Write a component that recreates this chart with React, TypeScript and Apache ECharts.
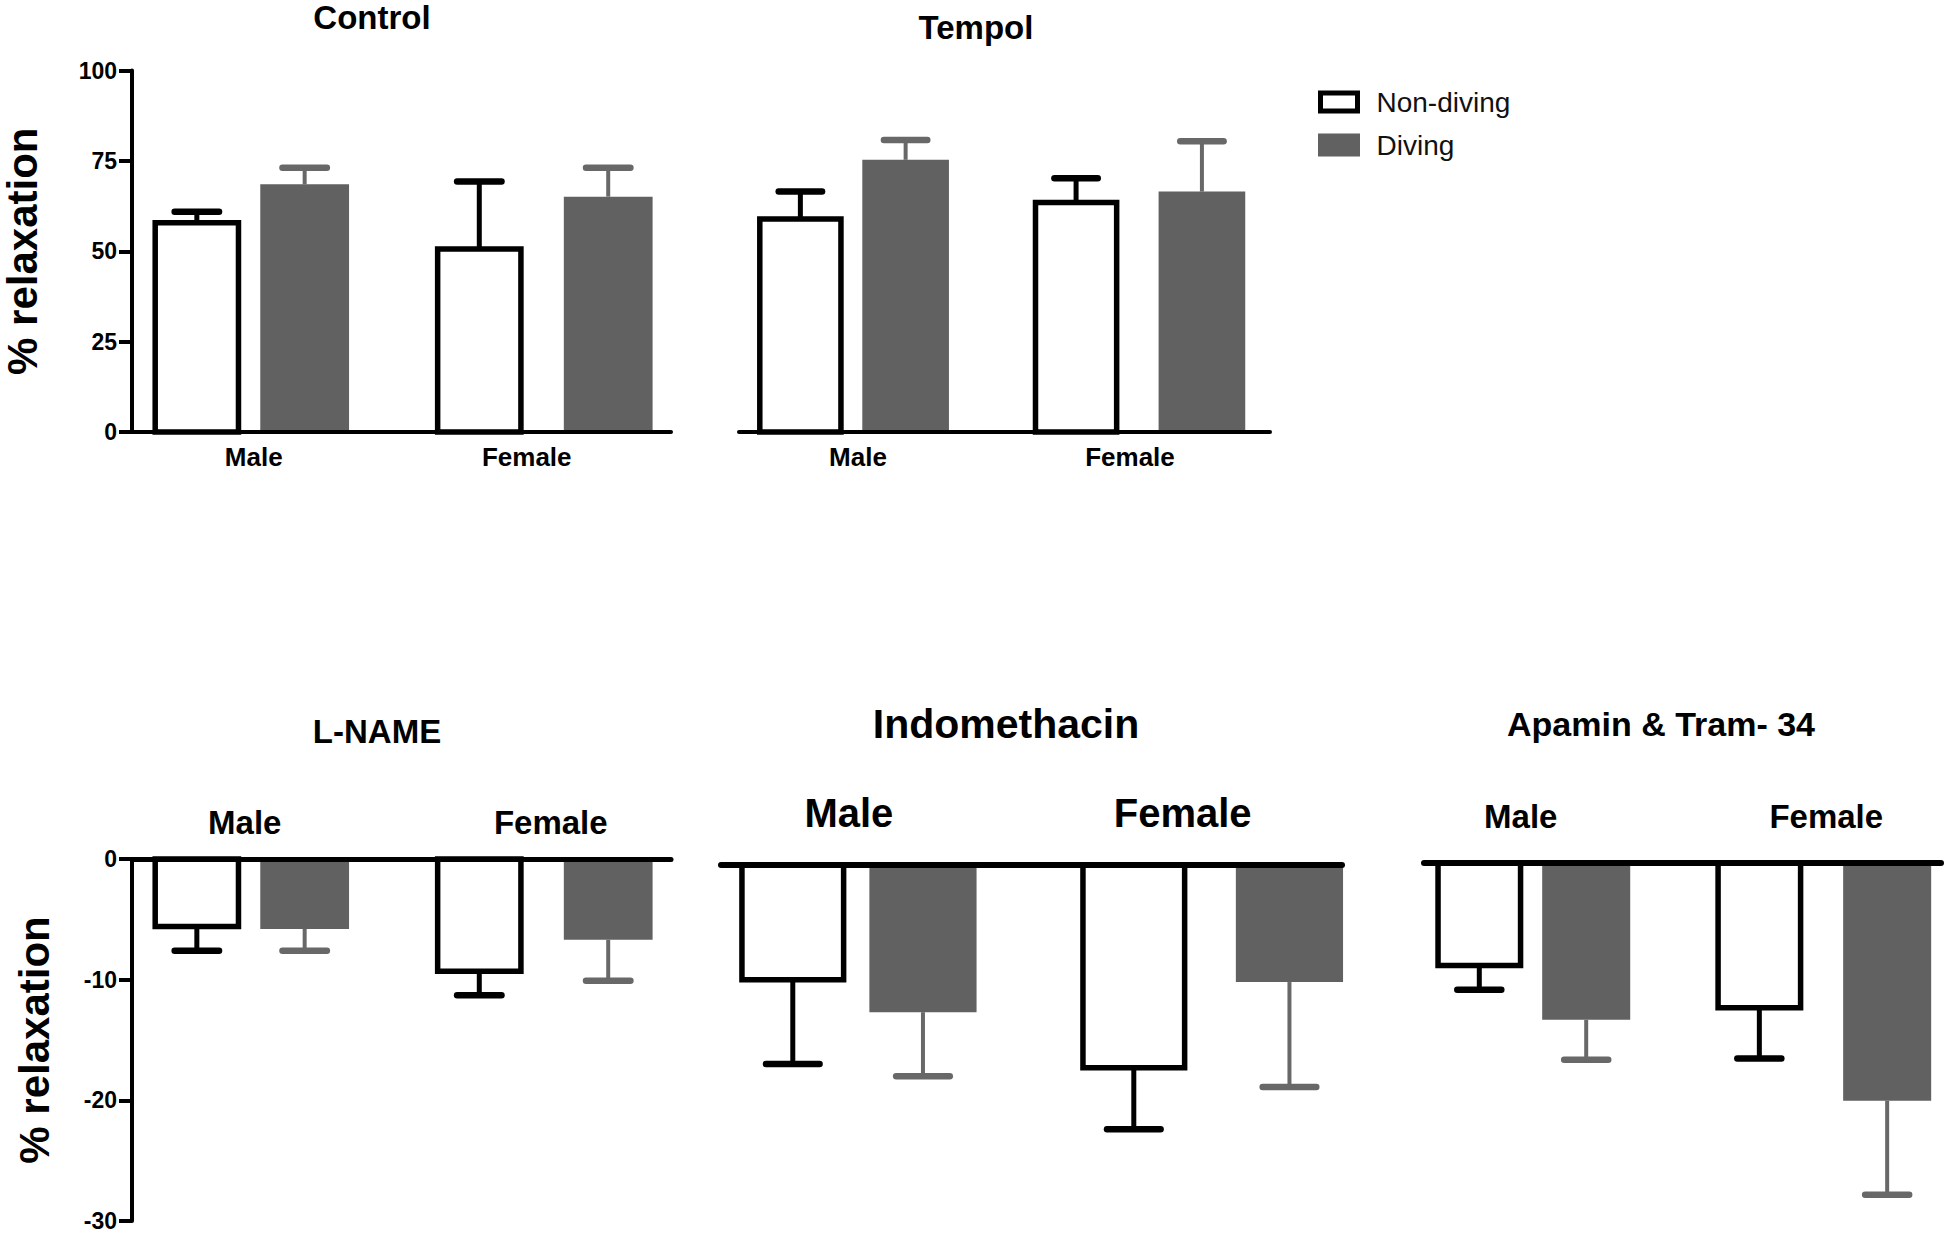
import React, { useEffect, useRef } from 'react';
import * as echarts from 'echarts';

// ---------- data ----------
const sexes = ['Male', 'Female'];
const seriesNames = ['Non-diving', 'Diving'];

const controlNonDiving = [57.9, 50.6];
const controlNonDivingErr = [3.0, 18.7];
const controlDiving = [68.5, 65.1];
const controlDivingErr = [4.6, 8.0];

const tempolNonDiving = [58.9, 63.5];
const tempolNonDivingErr = [7.6, 6.7];
const tempolDiving = [75.3, 66.5];
const tempolDivingErr = [5.5, 13.9];

const lnameNonDiving = [-5.6, -9.3];
const lnameNonDivingErr = [2.0, 2.0];
const lnameDiving = [-5.8, -6.7];
const lnameDivingErr = [1.8, 3.4];

const indoNonDiving = [-9.5, -16.8];
const indoNonDivingErr = [7.0, 5.1];
const indoDiving = [-12.2, -9.7];
const indoDivingErr = [5.3, 8.7];

const apaminNonDiving = [-8.5, -12.0];
const apaminNonDivingErr = [2.0, 4.2];
const apaminDiving = [-13.0, -19.7];
const apaminDivingErr = [3.3, 7.8];

const topTicks = { min: 0, max: 100, interval: 25 };
const bottomTicks = { min: -30, max: 0, interval: 10 };
const yAxisTitle = '% relaxation';

// ---------- layout / style ----------
const FONT = '"Liberation Sans", Arial, Helvetica, sans-serif';
const BAR_FRAC = 0.303;
// half distance between the two bars of a group, as a fraction of the band (Male, Female)
const SPACING = [0.184, 0.22];
const DIVE_FILL = '#616161';
const DIVE_ERR = '#686868';

type Panel = {
  title: string;
  titleX: number;
  titleY: number;
  titleSize: number;
  nd: number[];
  ndErr: number[];
  d: number[];
  dErr: number[];
  ticks: { min: number; max: number; interval: number };
  top: number;
  height: number;
  frameLeft: number;
  frameWidth: number;
  barsLeft: number;
  barsWidth: number;
  showY: boolean;
  yNameGap: number;
  labelPos: 'top' | 'bottom';
  labelSize: number;
  labelMargin: number;
  labelShift: number[];
  axisWidth: number;
};

const panels: Panel[] = [
  {
    title: 'Control', titleX: 372, titleY: 17, titleSize: 33,
    nd: controlNonDiving, ndErr: controlNonDivingErr, d: controlDiving, dErr: controlDivingErr,
    ticks: topTicks, top: 70.5, height: 361.5,
    frameLeft: 132, frameWidth: 539, barsLeft: 104.25, barsWidth: 586,
    showY: true, yNameGap: 89, labelPos: 'bottom', labelSize: 26, labelMargin: 12, labelShift: [3, -17], axisWidth: 4,
  },
  {
    title: 'Tempol', titleX: 976, titleY: 27, titleSize: 33,
    nd: tempolNonDiving, ndErr: tempolNonDivingErr, d: tempolDiving, dErr: tempolDivingErr,
    ticks: topTicks, top: 70.5, height: 361.5,
    frameLeft: 739, frameWidth: 531, barsLeft: 710, barsWidth: 572,
    showY: false, yNameGap: 0, labelPos: 'bottom', labelSize: 26, labelMargin: 12, labelShift: [5, -9], axisWidth: 4,
  },
  {
    title: 'L-NAME', titleX: 377, titleY: 731, titleSize: 33,
    nd: lnameNonDiving, ndErr: lnameNonDivingErr, d: lnameDiving, dErr: lnameDivingErr,
    ticks: bottomTicks, top: 859, height: 362,
    frameLeft: 132, frameWidth: 539, barsLeft: 104.25, barsWidth: 586,
    showY: true, yNameGap: 77, labelPos: 'top', labelSize: 33, labelMargin: 20, labelShift: [-6, 7], axisWidth: 5,
  },
  {
    title: 'Indomethacin', titleX: 1006, titleY: 724, titleSize: 41,
    nd: indoNonDiving, ndErr: indoNonDivingErr, d: indoDiving, dErr: indoDivingErr,
    ticks: bottomTicks, top: 865, height: 362,
    frameLeft: 721, frameWidth: 621, barsLeft: 681, barsWidth: 707.5,
    showY: false, yNameGap: 0, labelPos: 'top', labelSize: 40, labelMargin: 32, labelShift: [-9, -29], axisWidth: 6,
  },
  {
    title: 'Apamin & Tram- 34', titleX: 1661, titleY: 724, titleSize: 34,
    nd: apaminNonDiving, ndErr: apaminNonDivingErr, d: apaminDiving, dErr: apaminDivingErr,
    ticks: bottomTicks, top: 863, height: 362,
    frameLeft: 1424, frameWidth: 517, barsLeft: 1387.5, barsWidth: 581,
    showY: false, yNameGap: 0, labelPos: 'top', labelSize: 33, labelMargin: 30, labelShift: [-12, 3], axisWidth: 6,
  },
];

function makeRender(isDiving: boolean) {
  return (_params: any, api: any) => {
    const cat = api.value(0) as number;
    const mean = api.value(1) as number;
    const err = api.value(2) as number;
    const base = api.coord([cat, 0]);
    const tip = api.coord([cat, mean]);
    const end = api.coord([cat, mean + (mean >= 0 ? err : -err)]);
    const band = api.size([1, 0])[0];
    const bw = band * BAR_FRAC;
    const half = band * SPACING[cat];
    const cx = base[0] + (isDiving ? 1 : -1) * half;
    const capW = bw * 0.5;
    const color = isDiving ? DIVE_ERR : '#000000';
    const y0 = Math.min(base[1], tip[1]);
    const h = Math.abs(tip[1] - base[1]);
    const lw = 5.5;
    const rect = isDiving
      ? { type: 'rect', shape: { x: cx - bw / 2, y: y0, width: bw, height: h }, style: { fill: DIVE_FILL } }
      : {
          type: 'rect',
          shape: { x: cx - bw / 2 + lw / 2, y: y0, width: bw - lw, height: h },
          style: { fill: '#ffffff', stroke: '#000000', lineWidth: lw, lineJoin: 'miter' },
        };
    return {
      type: 'group',
      children: [
        {
          type: 'line',
          shape: { x1: cx, y1: tip[1], x2: cx, y2: end[1] },
          style: { stroke: color, lineWidth: isDiving ? 4 : 5 },
        },
        {
          type: 'line',
          shape: { x1: cx - capW / 2, y1: end[1], x2: cx + capW / 2, y2: end[1] },
          style: { stroke: color, lineWidth: 6.5, lineCap: 'round' },
        },
        rect,
      ],
    };
  };
}

function buildOption() {
  const grid: any[] = [];
  const xAxis: any[] = [];
  const yAxis: any[] = [];
  const series: any[] = [];
  const graphic: any[] = [];

  panels.forEach((p, i) => {
    const a = i * 2;
    const b = i * 2 + 1;
    grid.push({ left: p.frameLeft, top: p.top, width: p.frameWidth, height: p.height, outerBoundsMode: 'none', containLabel: false });
    grid.push({ left: p.barsLeft, top: p.top, width: p.barsWidth, height: p.height, outerBoundsMode: 'none', containLabel: false });

    xAxis.push({
      type: 'value', gridIndex: a, min: 0, max: 1, z: 5,
      position: p.labelPos,
      axisLine: { show: true, onZero: false, lineStyle: { color: '#000', width: p.axisWidth, cap: 'round' } },
      axisTick: { show: false }, axisLabel: { show: false }, splitLine: { show: false },
    });

    const rich: any = {};
    p.labelShift.forEach((dx, k) => {
      rich['s' + k] = {
        fontSize: p.labelSize, fontWeight: 'bold', color: '#000', fontFamily: FONT,
        padding: dx >= 0 ? [0, 0, 0, 2 * dx] : [0, -2 * dx, 0, 0],
      };
    });
    xAxis.push({
      type: 'category', gridIndex: b, data: sexes, position: p.labelPos,
      axisLine: { show: false, onZero: false }, axisTick: { show: false }, splitLine: { show: false },
      axisLabel: {
        show: true, fontSize: p.labelSize, fontWeight: 'bold', color: '#000', fontFamily: FONT,
        margin: p.labelMargin,
        formatter: (v: string, idx: number) => `{s${idx}|${v}}`,
        rich,
      },
    });

    yAxis.push({
      type: 'value', gridIndex: a, min: p.ticks.min, max: p.ticks.max, interval: p.ticks.interval,
      show: p.showY, z: 5,
      name: p.showY ? yAxisTitle : '',
      nameLocation: 'middle', nameGap: p.yNameGap, nameRotate: 90,
      nameTextStyle: { fontSize: 42, fontWeight: 900, color: '#000', fontFamily: FONT },
      axisLine: { show: true, onZero: false, lineStyle: { color: '#000', width: 4 } },
      axisTick: { show: true, length: 13, lineStyle: { color: '#000', width: 4 } },
      axisLabel: { fontSize: 23, fontWeight: 'bold', color: '#000', fontFamily: FONT, margin: 15 },
      splitLine: { show: false },
    });
    yAxis.push({
      type: 'value', gridIndex: b, min: p.ticks.min, max: p.ticks.max, interval: p.ticks.interval,
      show: false, splitLine: { show: false },
    });

    const toData = (vals: number[], errs: number[]) => vals.map((v, k) => [k, v, errs[k]]);
    series.push({
      type: 'custom', name: seriesNames[0], xAxisIndex: b, yAxisIndex: b,
      renderItem: makeRender(false), data: toData(p.nd, p.ndErr), clip: false,
      itemStyle: { color: '#ffffff', borderColor: '#000', borderWidth: 5 },
      encode: { x: 0, y: 1 },
    });
    series.push({
      type: 'custom', name: seriesNames[1], xAxisIndex: b, yAxisIndex: b,
      renderItem: makeRender(true), data: toData(p.d, p.dErr), clip: false,
      itemStyle: { color: DIVE_FILL },
      encode: { x: 0, y: 1 },
    });

    graphic.push({
      type: 'text', x: p.titleX, y: p.titleY,
      style: {
        text: p.title,
        font: `bold ${p.titleSize}px ${FONT}`,
        fill: '#000',
        align: 'center', verticalAlign: 'middle',
        textAlign: 'center', textVerticalAlign: 'middle',
      },
    });
  });

  return {
    animation: false,
    backgroundColor: '#ffffff',
    textStyle: { fontFamily: FONT },
    grid, xAxis, yAxis, series, graphic,
    legend: {
      orient: 'vertical', left: 1318, top: 88, padding: 0, itemWidth: 37, itemHeight: 18, itemGap: 15,
      icon: 'rect', selectedMode: false,
      textStyle: { fontSize: 28, color: '#111', fontFamily: FONT, padding: [0, 0, 0, 14] },
      data: [
        { name: seriesNames[0], itemStyle: { color: '#ffffff', borderColor: '#000', borderWidth: 5 } },
        { name: seriesNames[1], itemStyle: { color: DIVE_FILL, borderColor: DIVE_FILL, borderWidth: 5 } },
      ],
    },
  };
}

export default function App() {
  const ref = useRef<HTMLDivElement>(null);
  useEffect(() => {
    if (!ref.current) return;
    const chart = echarts.init(ref.current, undefined, { renderer: 'svg' });
    chart.setOption(buildOption() as any);
    return () => chart.dispose();
  }, []);
  return (
    <div
      ref={ref}
      style={{ position: 'fixed', left: 0, top: 0, width: 1950, height: 1235, background: '#fff' }}
    />
  );
}
